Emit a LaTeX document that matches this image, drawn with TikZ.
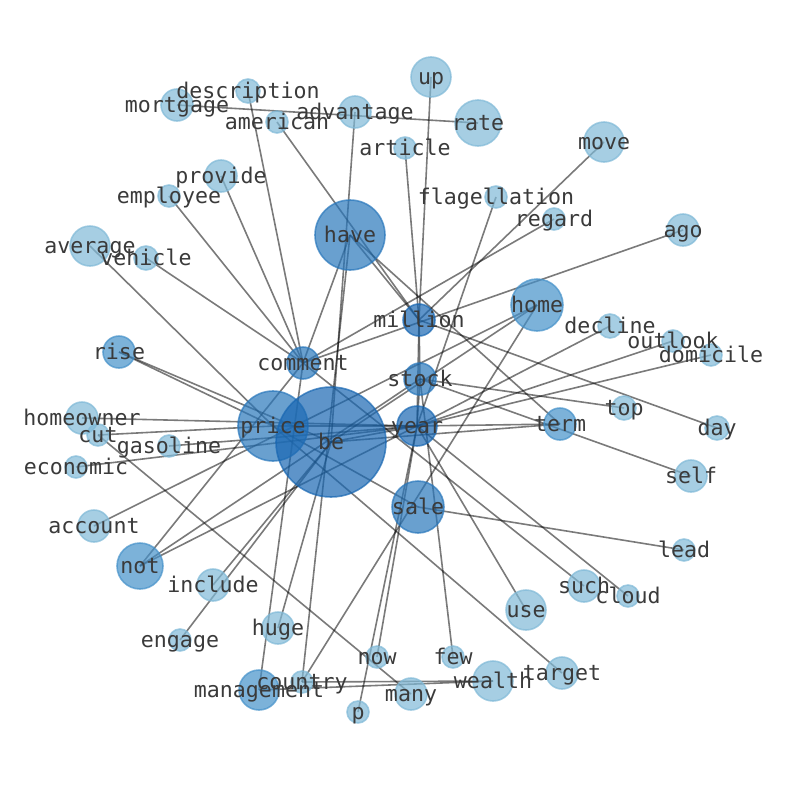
\documentclass[tikz,border=0pt]{standalone}
\usepackage{fontspec}
\setmonofont{DejaVu Sans Mono}
\usetikzlibrary{backgrounds}
\definecolor{cA}{RGB}{128,185,215}
\definecolor{cB}{RGB}{69,145,201}
\definecolor{cC}{RGB}{41,119,187}
\definecolor{cD}{RGB}{25,103,178}
\definecolor{labc}{RGB}{58,58,58}
\tikzset{
  nd/.style={circle, inner sep=0pt, outer sep=0pt, line width=1.6pt, fill opacity=.7, draw opacity=.7},
  lab/.style={inner sep=0pt, text=labc, yshift=-4.5pt, font=\ttfamily\fontsize{21.6}{22}\selectfont, text height=0.76em, text depth=0.24em},
  edge/.style={draw=black, draw opacity=.52, line width=1.6pt}
}
\newcommand\gn[5]{\node[nd, minimum size={2*#4 pt}, fill=#5, draw=#5] (#1) at (#2,#3) {};}
\newcommand\gl[2]{\node[lab] (l-#1) at (#1.center) {#2};}
\begin{document}
\begin{tikzpicture}[x=1pt,y=-1pt]
\useasboundingbox (0,0) rectangle (794,790);
% nodes
\gn{up}{431}{77}{20}{cA}
\gn{description}{248}{91}{12}{cA}
\gn{mortgage}{177}{105}{16}{cA}
\gn{advantage}{355}{112}{16}{cA}
\gn{american}{277}{122}{11}{cA}
\gn{rate}{478}{123}{23}{cA}
\gn{move}{604}{142}{20}{cA}
\gn{article}{405}{148}{11}{cA}
\gn{provide}{221}{176}{16}{cA}
\gn{employee}{169}{196}{11}{cA}
\gn{flagellation}{496}{197}{11}{cA}
\gn{regard}{554}{219}{11}{cA}
\gn{have}{350}{235}{35}{cC}
\gn{ago}{683}{230}{16}{cA}
\gn{average}{90}{246}{20}{cA}
\gn{vehicle}{146}{258}{12}{cA}
\gn{home}{537}{305}{26}{cB}
\gn{million}{419}{320}{16}{cD}
\gn{decline}{610}{326}{12}{cA}
\gn{outlook}{673}{341}{11}{cA}
\gn{domicile}{711}{355}{11}{cA}
\gn{comment}{303}{363}{16}{cC}
\gn{rise}{119}{352}{16}{cB}
\gn{stock}{420}{379}{16}{cC}
\gn{top}{624}{408}{12}{cA}
\gn{homeowner}{82}{418}{16}{cA}
\gn{price}{273}{426}{35}{cC}
\gn{be}{331}{442}{55}{cD}
\gn{year}{417}{426}{20}{cD}
\gn{term}{560}{424}{16}{cB}
\gn{day}{717}{428}{12}{cA}
\gn{cut}{98}{435}{11}{cA}
\gn{gasoline}{169}{446}{11}{cA}
\gn{economic}{76}{467}{11}{cA}
\gn{self}{691}{476}{16}{cA}
\gn{sale}{418}{507}{26}{cC}
\gn{account}{94}{526}{16}{cA}
\gn{not}{140}{566}{23}{cB}
\gn{lead}{684}{550}{11}{cA}
\gn{include}{213}{585}{16}{cA}
\gn{such}{584}{586}{16}{cA}
\gn{cloud}{628}{596}{11}{cA}
\gn{use}{526}{610}{20}{cA}
\gn{huge}{278}{628}{16}{cA}
\gn{engage}{180}{640}{11}{cA}
\gn{now}{377}{657}{11}{cA}
\gn{few}{453}{657}{11}{cA}
\gn{target}{562}{673}{16}{cA}
\gn{wealth}{493}{681}{20}{cA}
\gn{country}{302}{682}{11}{cA}
\gn{management}{259}{690}{20}{cB}
\gn{many}{411}{694}{16}{cA}
\gn{p}{358}{712}{11}{cA}
% edges
\begin{scope}[on background layer]
\foreach \a/\b in {mortgage/rate, description/comment, advantage/be, american/million,
  up/million, article/million, move/million, regard/comment, ago/comment,
  flagellation/year, provide/comment, employee/comment, vehicle/comment,
  average/price, have/comment, have/million, have/term, million/day, have/country,
  home/country, home/account, home/be, decline/year, outlook/year, domicile/year,
  top/stock, stock/self, year/term, be/term, sale/lead, price/sale, price/year,
  be/year, million/stock, stock/year, million/year, rise/price, rise/be,
  homeowner/year, cut/price, cut/many, gasoline/year, economic/year,
  not/stock, not/year, not/comment, include/be, engage/be, huge/be,
  comment/management, management/wealth, country/wealth, now/year, p/year,
  few/stock, use/year, such/comment, cloud/year, target/price}
  \draw[edge] (\a.center) -- (\b.center);
\end{scope}
% labels
\gl{up}{up}
\gl{description}{description}
\gl{mortgage}{mortgage}
\gl{advantage}{advantage}
\gl{american}{american}
\gl{rate}{rate}
\gl{move}{move}
\gl{article}{article}
\gl{provide}{provide}
\gl{employee}{employee}
\gl{flagellation}{flagellation}
\gl{regard}{regard}
\gl{have}{have}
\gl{ago}{ago}
\gl{average}{average}
\gl{vehicle}{vehicle}
\gl{home}{home}
\gl{million}{million}
\gl{decline}{decline}
\gl{outlook}{outlook}
\gl{domicile}{domicile}
\gl{comment}{comment}
\gl{rise}{rise}
\gl{stock}{stock}
\gl{top}{top}
\gl{homeowner}{homeowner}
\gl{price}{price}
\gl{be}{be}
\gl{year}{year}
\gl{term}{term}
\gl{day}{day}
\gl{cut}{cut}
\gl{gasoline}{gasoline}
\gl{economic}{economic}
\gl{self}{self}
\gl{sale}{sale}
\gl{account}{account}
\gl{not}{not}
\gl{lead}{lead}
\gl{include}{include}
\gl{such}{such}
\gl{cloud}{cloud}
\gl{use}{use}
\gl{huge}{huge}
\gl{engage}{engage}
\gl{now}{now}
\gl{few}{few}
\gl{target}{target}
\gl{wealth}{wealth}
\gl{country}{country}
\gl{management}{management}
\gl{many}{many}
\gl{p}{p}
\end{tikzpicture}
\end{document}
